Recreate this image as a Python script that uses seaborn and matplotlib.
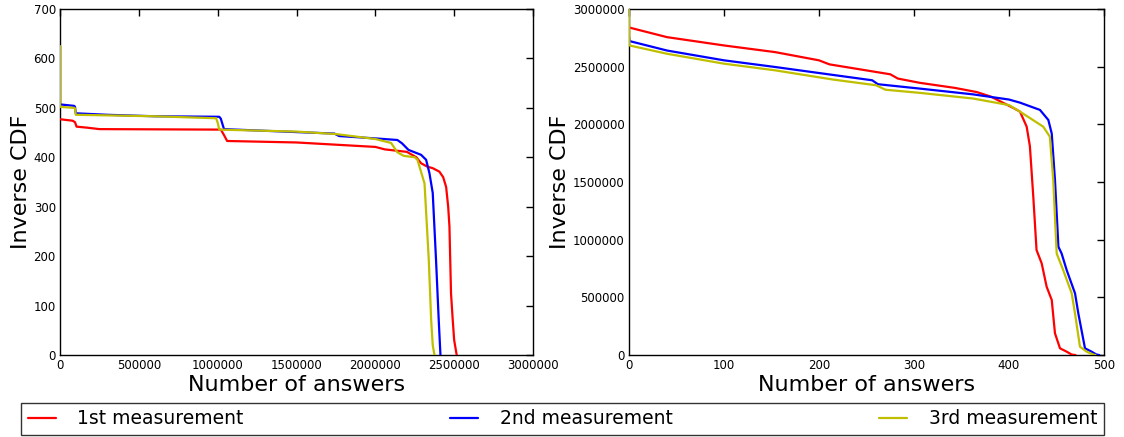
import matplotlib
matplotlib.use("Agg")
import matplotlib.pyplot as plt
import seaborn as sns
import pandas as pd

# ---- left panel: per-answer inverse CDF over the whole answer set ----
left_x_1st = [0, 80e3, 95e3, 105e3, 170e3, 250e3, 1020e3, 1040e3, 1060e3, 1500e3,
              2000e3, 2060e3, 2200e3, 2260e3, 2290e3, 2330e3, 2364e3, 2406e3, 2430e3,
              2449e3, 2462e3, 2470e3, 2480e3, 2490e3, 2500e3, 2516e3]
left_y_1st = [477, 474, 471, 462, 460, 457, 456, 445, 433, 430,
              421, 416, 411, 400, 388, 381, 378, 371, 360,
              340, 300, 260, 125, 75, 30, 0]

left_x_2nd = [0, 0, 90e3, 95e3, 100e3, 300e3, 600e3, 1010e3, 1020e3, 1040e3, 1500e3,
              1740e3, 1770e3, 2010e3, 2140e3, 2170e3, 2210e3, 2290e3, 2322e3, 2343e3,
              2364e3, 2385e3, 2402e3, 2413e3]
left_y_2nd = [625, 507, 504, 502, 489, 486, 483, 482, 478, 457, 451,
              448, 443, 438, 435, 428, 415, 405, 395, 368,
              328, 192, 71, 0]

left_x_3rd = [0, 0, 90e3, 95e3, 100e3, 600e3, 990e3, 1000e3, 1010e3, 1500e3, 1750e3,
              2000e3, 2100e3, 2140e3, 2180e3, 2250e3, 2267e3, 2312e3, 2339e3, 2354e3,
              2364e3, 2375e3]
left_y_3rd = [625, 502, 500, 499, 486, 483, 479, 470, 456, 452, 447,
              437, 429, 410, 403, 400, 395, 347, 192, 71,
              20, 0]

# ---- right panel: inverse CDF of the top 500 answers ----
right_x_1st = [0, 40, 100, 154, 200, 211, 275, 283, 306, 343, 366, 381, 393, 405,
               411.6, 418.6, 422, 425.6, 429, 434.4, 439.6, 445, 448.4, 453.7, 460.7,
               466, 470]
right_y_1st = [2.84e6, 2.756e6, 2.684e6, 2.626e6, 2.555e6, 2.52e6, 2.434e6, 2.397e6,
               2.36e6, 2.316e6, 2.28e6, 2.24e6, 2.19e6, 2.14e6, 2.11e6, 1.98e6,
               1.81e6, 1.37e6, 0.91e6, 0.795e6, 0.593e6, 0.477e6, 0.188e6, 0.058e6,
               0.029e6, 0.004e6, 0.0]

right_x_2nd = [0, 0.5, 40, 100, 154, 200, 256, 262, 306, 362, 400, 411.6, 432.6,
               441.4, 445, 448.4, 452, 455.4, 460.7, 469.5, 473, 480, 487, 492, 495]
right_y_2nd = [2.76e6, 2.722e6, 2.64e6, 2.555e6, 2.497e6, 2.445e6, 2.382e6, 2.348e6,
               2.31e6, 2.26e6, 2.215e6, 2.188e6, 2.125e6, 2.038e6, 1.92e6, 1.518e6,
               0.939e6, 0.88e6, 0.737e6, 0.535e6, 0.36e6, 0.058e6, 0.029e6, 0.004e6,
               0.0]

right_x_3rd = [0, 0.5, 40, 100, 154, 215, 260, 270, 306, 362, 400, 411.6, 436, 443,
               446.6, 450.2, 457, 466, 469.5, 474.7, 481.8, 488.7, 491]
right_y_3rd = [3.0e6, 2.684e6, 2.612e6, 2.526e6, 2.468e6, 2.388e6, 2.339e6, 2.30e6,
               2.273e6, 2.224e6, 2.167e6, 2.11e6, 1.98e6, 1.893e6, 1.518e6, 0.88e6,
               0.737e6, 0.535e6, 0.36e6, 0.072e6, 0.029e6, 0.004e6, 0.0]

series_names = ["1st measurement", "2nd measurement", "3rd measurement"]
series_colors = ["#ff0000", "#0000ff", "#bfbf00"]

left_ticks_x = [0, 500000, 1000000, 1500000, 2000000, 2500000, 3000000]
left_ticks_y = [0, 100, 200, 300, 400, 500, 600, 700]
right_ticks_x = [0, 100, 200, 300, 400, 500]
right_ticks_y = [0, 500000, 1000000, 1500000, 2000000, 2500000, 3000000]


def build_frame(xs, ys):
    parts = []
    for name, x, y in zip(series_names, xs, ys):
        parts.append(pd.DataFrame({"x": x, "y": y, "series": name}))
    return pd.concat(parts, ignore_index=True)


left_df = build_frame([left_x_1st, left_x_2nd, left_x_3rd],
                      [left_y_1st, left_y_2nd, left_y_3rd])
right_df = build_frame([right_x_1st, right_x_2nd, right_x_3rd],
                       [right_y_1st, right_y_2nd, right_y_3rd])

sns.set_style("white")
plt.rcParams["font.family"] = ["DejaVu Sans"]
plt.rcParams["text.color"] = "black"
plt.rcParams["axes.labelcolor"] = "black"

fig = plt.figure(figsize=(11.24, 4.37), dpi=100)
ax_l = fig.add_axes([0.0534, 0.1876, 0.4208, 0.7918])
ax_r = fig.add_axes([0.5596, 0.1876, 0.4226, 0.7918])

palette = dict(zip(series_names, series_colors))

for ax, df in ((ax_l, left_df), (ax_r, right_df)):
    sns.lineplot(data=df, x="x", y="y", hue="series", palette=palette,
                 hue_order=series_names, sort=False, estimator=None,
                 units="series", linewidth=1.6, legend=False, ax=ax,
                 zorder=3)

ax_l.set_xlim(0, 3000000)
ax_l.set_ylim(0, 700)
ax_l.set_xticks(left_ticks_x)
ax_l.set_yticks(left_ticks_y)
ax_r.set_xlim(0, 500)
ax_r.set_ylim(0, 3000000)
ax_r.set_xticks(right_ticks_x)
ax_r.set_yticks(right_ticks_y)

for ax in (ax_l, ax_r):
    ax.ticklabel_format(style="plain", useOffset=False)
    ax.set_xlabel("Number of answers", fontsize=16, labelpad=2, color="black")
    ax.set_ylabel("Inverse CDF", fontsize=16, labelpad=2, color="black")
    ax.tick_params(direction="in", length=5, width=1, top=True, right=True,
                   labelsize=8.5, pad=3, colors="black")
    for sp in ax.spines.values():
        sp.set_visible(True)
        sp.set_color("black")
        sp.set_linewidth(1.0)

handles = [plt.Line2D([], [], color=c, linewidth=1.6) for c in series_colors]
leg = fig.legend(handles, series_names, loc="lower left",
                 bbox_to_anchor=(21 / 1124, 2 / 437, 1083 / 1124, 32 / 437),
                 mode="expand", ncol=3, fontsize=13.5, frameon=True,
                 fancybox=False, borderaxespad=0, handlelength=1.5,
                 handletextpad=1.15, borderpad=0.35)
leg.get_frame().set_edgecolor("black")
leg.get_frame().set_linewidth(1.0)
for t in leg.get_texts():
    t.set_color("black")

fig.savefig("out.png", dpi=100, facecolor="white")
